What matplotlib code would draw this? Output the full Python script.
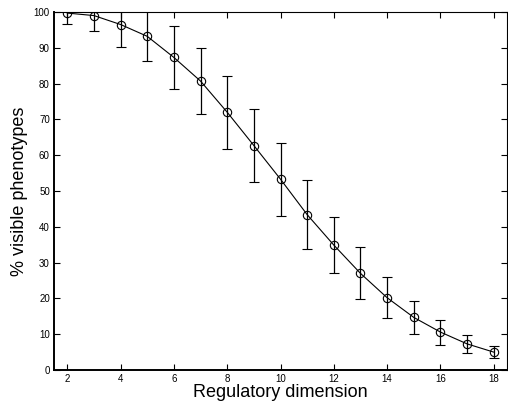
import numpy as np
import matplotlib
matplotlib.use("Agg")
import matplotlib.pyplot as plt

plt.rcParams["font.family"] = ["Liberation Sans", "DejaVu Sans"]

# regulatory dimension vs mean % visible phenotypes (+/- spread)
dimension = [2, 3, 4, 5, 6, 7, 8, 9, 10, 11, 12, 13, 14, 15, 16, 17, 18]
visible_pct = [99.7, 99.0, 96.5, 93.2, 87.3, 80.7, 72.0, 62.7, 53.3, 43.4,
               34.9, 27.0, 20.2, 14.7, 10.6, 7.3, 5.0]
error = [3.0, 4.3, 6.3, 7.0, 8.8, 9.2, 10.2, 10.2, 10.2, 9.7,
         7.9, 7.3, 5.8, 4.6, 3.5, 2.5, 1.7]

x_ticks = [2, 4, 6, 8, 10, 12, 14, 16, 18]
y_ticks = [0, 10, 20, 30, 40, 50, 60, 70, 80, 90, 100]

fig = plt.figure(figsize=(5.08, 4.09), dpi=100)
ax = fig.add_axes([54 / 508, 1 - 370 / 409, (507 - 54) / 508, (370 - 12) / 409])

ax.errorbar(dimension, visible_pct, yerr=error, color="black", lw=0.8,
            marker="o", markersize=6, markerfacecolor="none",
            markeredgewidth=0.8, ecolor="black", elinewidth=0.9,
            capsize=3.5, capthick=0.9)

ax.set_xlim(1.5, 18.5)
ax.set_ylim(0, 100)
ax.set_xticks(x_ticks)
ax.set_yticks(y_ticks)
ax.tick_params(direction="in", top=True, right=True, labelsize=7,
               length=4, width=0.8, pad=3)
for side in ["top", "right"]:
    ax.spines[side].set_linewidth(0.8)
for side in ["left", "bottom"]:
    ax.spines[side].set_linewidth(1.4)

ax.set_xlabel("Regulatory dimension", fontsize=13, labelpad=0)
ax.set_ylabel("% visible phenotypes", fontsize=13, labelpad=4)

fig.savefig("out.png", dpi=100)
